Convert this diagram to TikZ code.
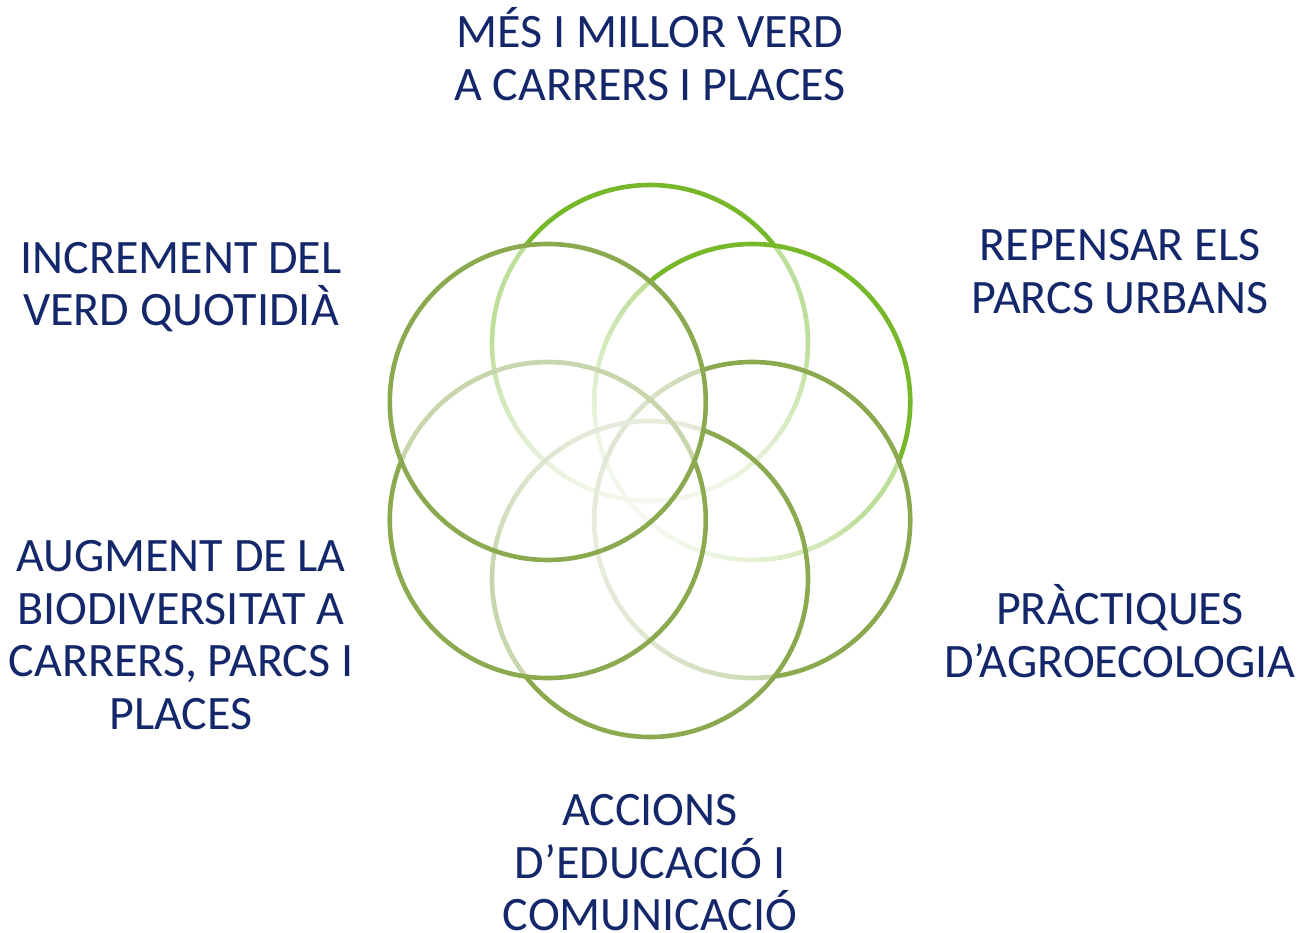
\documentclass[tikz,border=0pt]{standalone}
\usepackage{fontspec}
\setmainfont{Carlito}
\definecolor{navy}{HTML}{13276A}
\definecolor{brightgreen}{HTML}{77B82A}
\definecolor{olive}{HTML}{8BAA4F}
\definecolor{paleGa}{HTML}{BEDF9A}
\definecolor{paleGb}{HTML}{F4F8EE}
\definecolor{paleOa}{HTML}{C8D6AD}
\definecolor{paleOb}{HTML}{E6ECDC}
\tikzset{
  ring/.style={line width=4.6pt},
  ringseg/.style={line width=4.6pt, line cap=round},
  lbl/.style={text=navy, align=center, inner sep=0pt, font=\fontsize{48}{52.5}\selectfont}
}
% #1 cx, #2 cy, #3 full colour, #4 a1, #5 a2, #6 phi, #7 pale start, #8 pale end
\newcommand\myring[8]{%
  \pgfmathsetmacro\rgstep{(#4+360-#5)/72}%
  \foreach \k in {0,...,71}{%
    \pgfmathsetmacro\rgA{#5+\k*\rgstep}%
    \pgfmathsetmacro\rgB{\rgA+\rgstep}%
    \pgfmathsetmacro\rgM{\rgA+\rgstep/2}%
    \pgfmathtruncatemacro\rgmix{100*max(0,-cos(\rgM-#6))}%
    \colorlet{segc}{#8!\rgmix!#7}%
    \draw[ringseg,segc] (#1,#2) ++(\rgA:158) arc[start angle=\rgA,end angle=\rgB,radius=158];
  }%
  \draw[ring,#3] (#1,#2) ++(#4:158) arc[start angle=#4,end angle=#5,radius=158];
}
\begin{document}
\begin{tikzpicture}[x=1pt,y=1pt]
\useasboundingbox (0,0) rectangle (1301,933);
\fill[white] (0,0) rectangle (1301,933);
% circles
\myring{650}{590}{brightgreen}{38}{142}{90}{paleGa}{paleGb}
\myring{752.2}{531}{brightgreen}{-22}{130}{45}{paleGa}{paleGb}
\myring{752.2}{413}{olive}{-82}{108}{10}{paleOa}{paleOb}
\myring{650}{354}{olive}{218}{430}{270}{paleOa}{paleOb}
\myring{547.8}{413}{olive}{158}{382}{30}{paleOa}{paleOa}
\draw[ring,olive] (547.8,531) circle[radius=158];
% labels
\node[lbl] (top) at (650,879) {MÉS I MILLOR VERD\\A CARRERS I PLACES};
\node[lbl] (ur) at (1120,661.5) {REPENSAR ELS\\PARCS URBANS};
\node[lbl] (ul) at (181,646) {INCREMENT DEL\\VERD QUOTIDIÀ};
\node[lbl] (ll) at (181,298) {AUGMENT DE LA\\BIODIVERSITAT A\\CARRERS, PARCS I\\PLACES};
\node[lbl] (lr) at (1120,302) {PRÀCTIQUES\\D’AGROECOLOGIA};
\node[lbl] (bot) at (650,70) {ACCIONS\\D’EDUCACIÓ I\\COMUNICACIÓ};
\end{tikzpicture}
\end{document}
